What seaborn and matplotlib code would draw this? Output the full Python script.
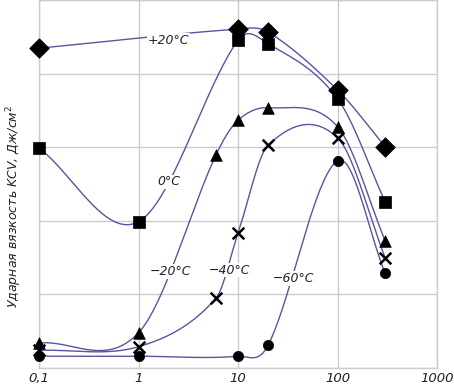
import numpy as np
import pandas as pd
import matplotlib
matplotlib.use("Agg")
import matplotlib.pyplot as plt
import seaborn as sns

# strain rate (log axis) and impact toughness in grid units
x_p20 = [0.1, 10, 20, 100, 300]
y_p20 = [4.35, 4.61, 4.57, 3.78, 3.01]

x_0 = [0.1, 1, 10, 20, 100, 300]
y_0 = [2.99, 1.99, 4.46, 4.41, 3.66, 2.26]

x_m20 = [0.1, 1, 6, 10, 20, 100, 300]
y_m20 = [0.34, 0.48, 2.90, 3.37, 3.54, 3.28, 1.73]

x_m40 = [0.1, 1, 6, 10, 20, 100, 300]
y_m40 = [0.24, 0.29, 0.95, 1.84, 3.03, 3.13, 1.50]

x_m60 = [0.1, 1, 10, 20, 100, 300]
y_m60 = [0.16, 0.16, 0.16, 0.31, 2.82, 1.29]

series = [
    ("+20°C", x_p20, y_p20, "D", 100, (1.98, 4.46)),
    ("0°C", x_0, y_0, "s", 80, (2.0, 2.53)),
    ("−20°C", x_m20, y_m20, "^", 70, (2.1, 1.31)),
    ("−40°C", x_m40, y_m40, "x", 70, (8.1, 1.33)),
    ("−60°C", x_m60, y_m60, "o", 55, (35.7, 1.22)),
]

xticks = [0.1, 1, 10, 100, 1000]
xticklabels = ["0,1", "1", "10", "100", "1000"]

LINE = "#5656a0"


def smooth(xs, ys, n=40):
    # cubic hermite through the points in log-x, catmull-rom tangents
    lx = np.log10(xs)
    ys = np.asarray(ys, float)
    m = np.zeros(len(lx))
    m[0] = (ys[1] - ys[0]) / (lx[1] - lx[0])
    m[-1] = (ys[-1] - ys[-2]) / (lx[-1] - lx[-2])
    for i in range(1, len(lx) - 1):
        m[i] = (ys[i + 1] - ys[i - 1]) / (lx[i + 1] - lx[i - 1])
    out_x, out_y = [], []
    for i in range(len(lx) - 1):
        h = lx[i + 1] - lx[i]
        t = np.linspace(0, 1, n)
        h00 = 2 * t**3 - 3 * t**2 + 1
        h10 = t**3 - 2 * t**2 + t
        h01 = -2 * t**3 + 3 * t**2
        h11 = t**3 - t**2
        out_x.append(lx[i] + t * h)
        out_y.append(h00 * ys[i] + h10 * h * m[i] + h01 * ys[i + 1] + h11 * h * m[i + 1])
    return 10 ** np.concatenate(out_x), np.concatenate(out_y)


sns.set_style("whitegrid")
plt.rcParams["font.family"] = ["DejaVu Sans"]

fig = plt.figure(figsize=(4.54, 3.89), dpi=100)
ax = fig.add_axes([0.086, 0.054, 0.877, 0.945])

for name, xs, ys, mk, sz, lab in series:
    cx, cy = smooth(xs, ys)
    curve = pd.DataFrame({"x": cx, "y": cy})
    sns.lineplot(data=curve, x="x", y="y", ax=ax, color=LINE, lw=1.0, sort=False, zorder=2)
    pts = pd.DataFrame({"x": xs, "y": ys})
    if mk == "x":
        sns.scatterplot(data=pts, x="x", y="y", ax=ax, marker="x", s=sz, color="black",
                        linewidth=1.8, zorder=4, clip_on=False)
    else:
        sns.scatterplot(data=pts, x="x", y="y", ax=ax, marker=mk, s=sz, color="black",
                        edgecolor="black", linewidth=0.5, zorder=4, clip_on=False)
    ax.text(lab[0], lab[1], name, ha="center", va="center", fontsize=9, style="italic",
            color="#222222", zorder=3,
            bbox=dict(facecolor="white", edgecolor="none", pad=0.5))

ax.set_xscale("log")
ax.set_xlim(0.1, 1000)
ax.set_ylim(0, 5)
ax.set_xticks(xticks)
ax.set_xticklabels(xticklabels, fontsize=9.5, style="italic", color="#222222")
ax.minorticks_off()
ax.set_yticks([0, 1, 2, 3, 4, 5])
ax.set_yticklabels([])
ax.tick_params(length=0, pad=3)
ax.grid(True, color="#cccccc", lw=1.0)
for sp in ax.spines.values():
    sp.set_color("#cccccc")
    sp.set_linewidth(1.0)
ax.set_xlabel("")
ax.set_ylabel("Ударная вязкость KCV, Дж/см$^2$", fontsize=9, style="italic",
              color="#222222")
ax.yaxis.set_label_coords(-0.038, 0.44)

fig.savefig("out.png", dpi=100)
